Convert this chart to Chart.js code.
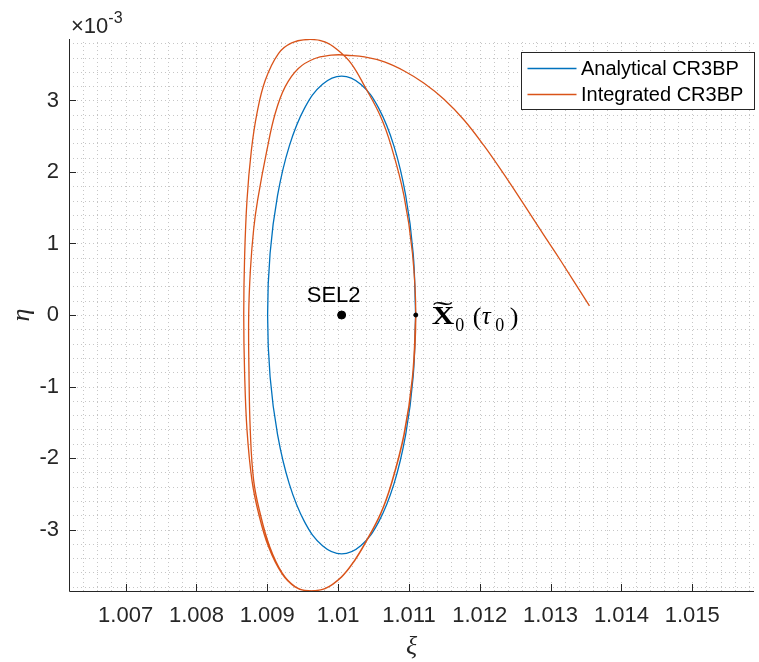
<!DOCTYPE html>
<html lang="en">
<head>
  <meta charset="UTF-8" />
  <title>Analytical vs Integrated CR3BP</title>
  <script src="https://cdn.jsdelivr.net/npm/chart.js"></script>
  <style>
    html, body { margin: 0; padding: 0; background: #fff; }
    canvas { display: block; }
  </style>
</head>
<body>
  <canvas id="orbitChart" width="759" height="662"></canvas>

  <script>
    // axis limits (eta in units of 1e-3)
    const xLimits = [1.006201, 1.015872];
    const yLimits = [-3.86, 3.86];
    const xTicks = [1.007, 1.008, 1.009, 1.010, 1.011, 1.012, 1.013, 1.014, 1.015];
    const xTickLabels = ['1.007', '1.008', '1.009', '1.01', '1.011', '1.012', '1.013', '1.014', '1.015'];
    const yTicks = [-3, -2, -1, 0, 1, 2, 3];
    const yTickLabels = ['-3', '-2', '-1', '0', '1', '2', '3'];
    const xMinorStep = 0.0002;
    const yMinorStep = 0.2;

    const seriesNames = ['Analytical CR3BP', 'Integrated CR3BP'];

    // analytical solution
    const analyticalXi = [
      1.011095, 1.011060, 1.010955, 1.010789, 1.010573, 1.010320, 1.010050,
      1.009780, 1.009527, 1.009311, 1.009145, 1.009040, 1.009005,
      1.009040, 1.009145, 1.009311, 1.009527, 1.009780, 1.010050,
      1.010320, 1.010573, 1.010789, 1.010955, 1.011060, 1.011095
    ];
    const analyticalEta = [
      0, 0.864, 1.670, 2.362, 2.893, 3.226, 3.340,
      3.226, 2.893, 2.362, 1.670, 0.864, 0,
      -0.864, -1.670, -2.362, -2.893, -3.226, -3.340,
      -3.226, -2.893, -2.362, -1.670, -0.864, 0
    ];

    // integrated trajectory: two near-identical loops, then drifting away
    const integratedXi = [
      // first loop
      1.011097, 1.011050, 1.010930, 1.010750, 1.010600, 1.010390, 1.010233, 1.010046,
      1.009813, 1.009579, 1.009392, 1.009205, 1.009018, 1.008878, 1.008784, 1.008714,
      1.008680, 1.008668, 1.008680, 1.008714, 1.008776, 1.008854, 1.008972, 1.009158,
      1.009345, 1.009579, 1.009813, 1.009999, 1.010186, 1.010380, 1.010600, 1.010750,
      1.010930, 1.011050, 1.011097,
      // second pass
      1.011053, 1.010934, 1.010754, 1.010604, 1.010394, 1.010237, 1.010050,
      1.009816, 1.009581, 1.009396, 1.009212, 1.009035, 1.008900, 1.008808, 1.008760,
      1.008742, 1.008738, 1.008762, 1.008808, 1.008864, 1.008995, 1.009112, 1.009252,
      1.009439, 1.009672, 1.009906, 1.010013, 1.010116, 1.010373, 1.010654, 1.010934,
      1.011214, 1.011495, 1.011775, 1.012055, 1.012336, 1.012616, 1.012896, 1.013139,
      1.013549
    ];
    const integratedEta = [
      0, -0.864, -1.670, -2.362, -2.776, -3.173, -3.430, -3.663,
      -3.826, -3.858, -3.803, -3.615, -3.243, -2.776, -2.312, -1.606,
      -0.80, 0, 0.80, 1.606, 2.305, 2.818, 3.284, 3.657,
      3.806, 3.853, 3.820, 3.703, 3.517, 3.190, 2.776, 2.362,
      1.670, 0.864, 0,
      -0.864, -1.670, -2.362, -2.776, -3.173, -3.430, -3.663,
      -3.826, -3.856, -3.800, -3.610, -3.240, -2.776, -2.312, -1.606,
      -0.80, 0, 0.63, 1.20, 1.606, 2.305, 2.818, 3.190,
      3.448, 3.587, 3.633, 3.640, 3.633, 3.610, 3.540, 3.413,
      3.242, 3.018, 2.731, 2.375, 1.976, 1.557, 1.130, 0.766,
      0.127
    ];

    const sel2Point = [1.01005, 0];
    const x0Point = [1.011097, 0];

    const blue = '#0072BD';
    const orange = '#D95319';
    const axisColor = '#262626';

    function toPoints(xs, ys) {
      return xs.map((x, i) => ({ x: x, y: ys[i] }));
    }

    const sansFont = '"Liberation Sans", Arial, Helvetica, sans-serif';
    const serifFont = '"Liberation Serif", "Times New Roman", serif';

    // grid, axes lines, inward ticks, annotations and legend in MATLAB style
    const matlabLook = {
      id: 'matlabLook',
      beforeDatasetsDraw(chart) {
        const { ctx, chartArea: a, scales: { x, y } } = chart;
        ctx.save();
        ctx.strokeStyle = '#c6c6c6';
        ctx.lineWidth = 1;
        ctx.setLineDash([1, 3]);
        const kx0 = Math.ceil(x.min / xMinorStep - 1e-9), kx1 = Math.floor(x.max / xMinorStep + 1e-9);
        for (let k = kx0; k <= kx1; k++) {
          const px = Math.round(x.getPixelForValue(k * xMinorStep)) + 0.5;
          ctx.beginPath(); ctx.moveTo(px, a.bottom); ctx.lineTo(px, a.top); ctx.stroke();
        }
        const ky0 = Math.ceil(y.min / yMinorStep - 1e-9), ky1 = Math.floor(y.max / yMinorStep + 1e-9);
        for (let k = ky0; k <= ky1; k++) {
          const py = Math.round(y.getPixelForValue(k * yMinorStep)) + 0.5;
          ctx.beginPath(); ctx.moveTo(a.left, py); ctx.lineTo(a.right, py); ctx.stroke();
        }
        ctx.restore();
      },
      afterDatasetsDraw(chart) {
        const { ctx, chartArea: a, scales: { x, y } } = chart;
        ctx.save();
        ctx.strokeStyle = axisColor;
        ctx.lineWidth = 1;
        ctx.beginPath();
        ctx.moveTo(a.left + 0.5, a.top);
        ctx.lineTo(a.left + 0.5, a.bottom + 0.5);
        ctx.lineTo(a.right, a.bottom + 0.5);
        ctx.stroke();
        const tickLen = 7;
        xTicks.forEach(v => {
          const px = Math.round(x.getPixelForValue(v)) + 0.5;
          ctx.beginPath(); ctx.moveTo(px, a.bottom); ctx.lineTo(px, a.bottom - tickLen); ctx.stroke();
        });
        yTicks.forEach(v => {
          const py = Math.round(y.getPixelForValue(v)) + 0.5;
          ctx.beginPath(); ctx.moveTo(a.left, py); ctx.lineTo(a.left + tickLen, py); ctx.stroke();
        });
        ctx.restore();
      },
      afterDraw(chart) {
        const { ctx, chartArea: a, scales: { x, y } } = chart;
        ctx.save();

        // exponent label
        ctx.fillStyle = axisColor;
        ctx.textBaseline = 'alphabetic';
        ctx.textAlign = 'left';
        ctx.font = '22px ' + sansFont;
        ctx.fillText('\u00d710', a.left + 2, 33);
        const w = ctx.measureText('\u00d710').width;
        ctx.font = '16px ' + sansFont;
        ctx.fillText('-3', a.left + 2 + w, 22.5);

        // SEL2 label
        const sx = x.getPixelForValue(sel2Point[0]);
        const sy = y.getPixelForValue(sel2Point[1]);
        ctx.fillStyle = '#000';
        ctx.font = '22px ' + sansFont;
        ctx.textAlign = 'center';
        ctx.fillText('SEL2', sx - 8, sy - 13);

        // X0 label (LaTeX-like)
        const qx = x.getPixelForValue(x0Point[0]);
        const qy = y.getPixelForValue(x0Point[1]);
        const base = qy + 8.5;
        ctx.textAlign = 'left';
        ctx.font = 'bold 25px ' + serifFont;
        const xw = ctx.measureText('X').width;
        ctx.save();
        ctx.translate(qx + 16, base);
        ctx.scale(22.5 / xw, 1);
        ctx.fillText('X', 0, 0);
        ctx.restore();
        ctx.font = '25px ' + serifFont;
        const tw = ctx.measureText('\u02dc').width;
        ctx.save();
        ctx.translate(qx + 17, base - 5);
        ctx.scale(20 / tw, 1);
        ctx.fillText('\u02dc', 0, 0);
        ctx.restore();
        ctx.font = '18px ' + serifFont;
        ctx.fillText('0', qx + 39.5, qy + 15.5);
        ctx.font = '26px ' + serifFont;
        ctx.fillText('(', qx + 57, base + 1);
        ctx.font = 'italic 25px ' + serifFont;
        ctx.fillText('\u03c4', qx + 66, base);
        ctx.font = '18px ' + serifFont;
        ctx.fillText('0', qx + 79.5, qy + 15.5);
        ctx.font = '26px ' + serifFont;
        ctx.fillText(')', qx + 94, base + 1);

        // legend box
        const lx = 521.5, ly = 52.5, lw = 233, lh = 57;
        ctx.fillStyle = '#fff';
        ctx.fillRect(lx, ly, lw, lh);
        ctx.strokeStyle = '#262626';
        ctx.lineWidth = 1;
        ctx.strokeRect(lx, ly, lw, lh);
        const rows = [ly + 16, ly + 42];
        [blue, orange].forEach((c, i) => {
          ctx.strokeStyle = c;
          ctx.lineWidth = 1.3;
          ctx.beginPath(); ctx.moveTo(lx + 6, rows[i]); ctx.lineTo(lx + 55, rows[i]); ctx.stroke();
          ctx.fillStyle = '#000';
          ctx.font = '20px ' + sansFont;
          ctx.textBaseline = 'middle';
          ctx.fillText(seriesNames[i], lx + 59.5, rows[i] + 1);
        });
        ctx.restore();
      }
    };

    new Chart(document.getElementById('orbitChart'), {
      type: 'scatter',
      data: {
        datasets: [
          {
            label: 'SEL2',
            data: [{ x: sel2Point[0], y: sel2Point[1] }],
            pointRadius: 4,
            backgroundColor: '#000',
            borderColor: '#000',
            order: 0
          },
          {
            label: 'X0',
            data: [{ x: x0Point[0], y: x0Point[1] }],
            pointRadius: 2,
            backgroundColor: '#000',
            borderColor: '#000',
            order: 0
          },
          {
            label: seriesNames[1],
            data: toPoints(integratedXi, integratedEta),
            showLine: true,
            borderColor: orange,
            borderWidth: 1.3,
            pointRadius: 0,
            tension: 0.4,
            order: 1
          },
          {
            label: seriesNames[0],
            data: toPoints(analyticalXi, analyticalEta),
            showLine: true,
            borderColor: blue,
            borderWidth: 1.3,
            pointRadius: 0,
            tension: 0.4,
            order: 2
          }
        ]
      },
      options: {
        responsive: false,
        animation: false,
        layout: { padding: { top: 39, left: 0, right: 0, bottom: 0 } },
        plugins: {
          legend: { display: false },
          tooltip: { enabled: false }
        },
        scales: {
          x: {
            type: 'linear',
            min: xLimits[0],
            max: xLimits[1],
            grid: { display: false, drawTicks: false },
            border: { display: false },
            afterBuildTicks: s => { s.ticks = xTicks.map(v => ({ value: v })); },
            afterFit: s => { s.height = 71; },
            ticks: {
              autoSkip: false,
              maxRotation: 0,
              padding: 12,
              color: axisColor,
              font: { family: sansFont, size: 22 },
              callback: (v, i) => xTickLabels[i]
            },
            title: {
              display: true,
              text: '\u03be',
              color: axisColor,
              font: { family: serifFont, size: 26, style: 'italic', lineHeight: 1 },
              padding: { top: 0, bottom: 2 }
            }
          },
          y: {
            type: 'linear',
            min: yLimits[0],
            max: yLimits[1],
            grid: { display: false, drawTicks: false },
            border: { display: false },
            afterBuildTicks: s => { s.ticks = yTicks.map(v => ({ value: v })); },
            afterFit: s => { s.width = 69; },
            ticks: {
              autoSkip: false,
              padding: 10,
              color: axisColor,
              font: { family: sansFont, size: 22 },
              callback: (v, i) => yTickLabels[i]
            },
            title: {
              display: true,
              text: '\u03b7',
              color: axisColor,
              font: { family: serifFont, size: 26, style: 'italic', lineHeight: 1 },
              padding: { top: 9, bottom: 0 }
            }
          }
        }
      },
      plugins: [matlabLook]
    });
  </script>
</body>
</html>
